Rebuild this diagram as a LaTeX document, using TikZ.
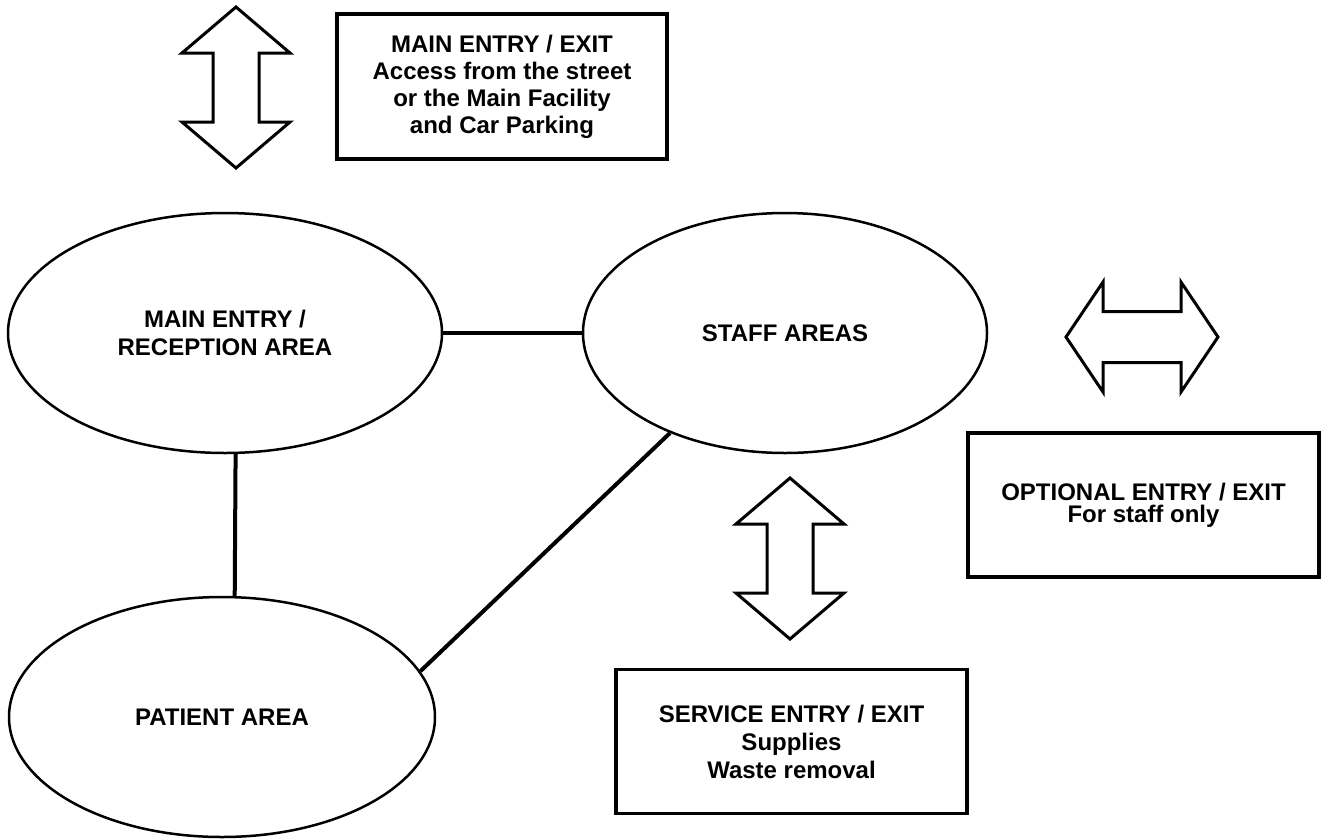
\documentclass[tikz,border=0pt]{standalone}
\usepackage{fontspec}
\setmainfont{Liberation Sans}
\usetikzlibrary{shapes.geometric}

\begin{document}
\begin{tikzpicture}[x=1pt,y=-1pt,
    area/.style={ellipse,draw,line width=2.5pt,inner sep=0pt,align=center,
      minimum height=240pt,font=\fontsize{24}{27.5}\selectfont\bfseries},
    gate/.style={rectangle,draw,line width=3.5pt,inner sep=0pt,align=center,
      minimum height=144pt,font=\fontsize{24}{22}\selectfont\bfseries},
    way/.style={draw,line width=3pt,line join=miter},
    link/.style={line width=4pt}]
  \useasboundingbox (0,0) rectangle (1325,839);
  \node[area,minimum width=434pt] (reception) at (225,333) {MAIN ENTRY /\\RECEPTION AREA};
  \node[area,minimum width=404pt] (staff) at (785,333) {STAFF AREAS};
  \node[area,minimum width=426pt] (patient) at (222,717) {PATIENT AREA};
  \draw[link] (reception.east) -- (staff.west);
  \draw[link] (reception.275) -- (patient.84);
  \draw[link] (patient.13) -- (staff.221);
  \node[gate,minimum width=330pt,minimum height=145pt,font=\fontsize{24}{27}\selectfont\bfseries] (mainexit) at (502,86.5)
    {MAIN ENTRY / EXIT\\Access from the street\\or the Main Facility\\and Car Parking};
  \node[gate,minimum width=351pt] (staffexit) at (1143.5,505)
    {OPTIONAL ENTRY / EXIT\\For staff only};
  \node[gate,minimum width=351pt,font=\fontsize{24}{28}\selectfont\bfseries] (serviceexit) at (791.5,741.5)
    {SERVICE ENTRY / EXIT\\Supplies\\Waste removal};
  \draw[way] (236,7) -- ++(54,46) -- ++(-31,0) -- ++(0,69) -- ++(31,0) -- ++(-54,46)
    -- ++(-54,-46) -- ++(31,0) -- ++(0,-69) -- ++(-31,0) -- cycle;
  \draw[way] (790,478) -- ++(54,46) -- ++(-31,0) -- ++(0,69) -- ++(31,0) -- ++(-54,46)
    -- ++(-54,-46) -- ++(31,0) -- ++(0,-69) -- ++(-31,0) -- cycle;
  \draw[way] (1066,337) -- ++(37,-55) -- ++(0,29.5) -- ++(78,0) -- ++(0,-29.5) -- ++(37,55)
    -- ++(-37,55) -- ++(0,-29.5) -- ++(-78,0) -- ++(0,29.5) -- cycle;
\end{tikzpicture}
\end{document}
